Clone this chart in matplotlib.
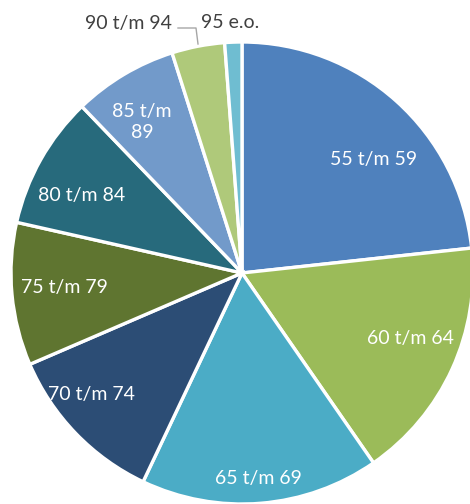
import matplotlib
matplotlib.use("Agg")
import matplotlib.pyplot as plt

categories = ["55 t/m 59", "60 t/m 64", "65 t/m 69", "70 t/m 74", "75 t/m 79",
              "80 t/m 84", "85 t/m\n89", "90 t/m 94", "95 e.o."]
values = [23.3, 17.1, 16.7, 11.5, 10.0, 9.3, 7.3, 3.7, 1.2]
colors = ["#4F81BD", "#9BBB59", "#4BACC6", "#2C4D75", "#5F7530",
          "#276A7C", "#729ACA", "#AFC97A", "#6FBDD1"]
label_px = [(374, 159), (410, 339), (258, 479), (91, 395),
            (64, 288), (82, 195), (142, 122), (128, 24), (230, 22)]
label_colors = ["white"] * 7 + ["#404040", "#404040"]

CX, CY, R = 242, 273, 231
plt.rcParams['font.family'] = ['Lato', 'DejaVu Sans']
fig = plt.figure(figsize=(4.70, 5.04), dpi=100)
ax = fig.add_axes([0, 0, 1, 1])
ax.pie(values, colors=colors, startangle=90, counterclock=False, radius=1.0,
       wedgeprops=dict(edgecolor="white", linewidth=2.4))
for lab, (px, py), c in zip(categories, label_px, label_colors):
    ax.text((px - CX) / R, (CY - py) / R, lab, color=c, fontsize=14,
            ha="center", va="center", linespacing=1.35)
# leader line for "90 t/m 94"
ax.plot([(178 - CX) / R, (196 - CX) / R, (198 - CX) / R],
        [(CY - 28) / R, (CY - 28) / R, (CY - 44) / R], color="#A6A6A6", lw=1.0)
ax.set_xlim(-CX / R, (470 - CX) / R)
ax.set_ylim(-(504 - CY) / R, CY / R)
ax.set_aspect("equal")
ax.axis("off")
fig.savefig("out.png", dpi=100)
